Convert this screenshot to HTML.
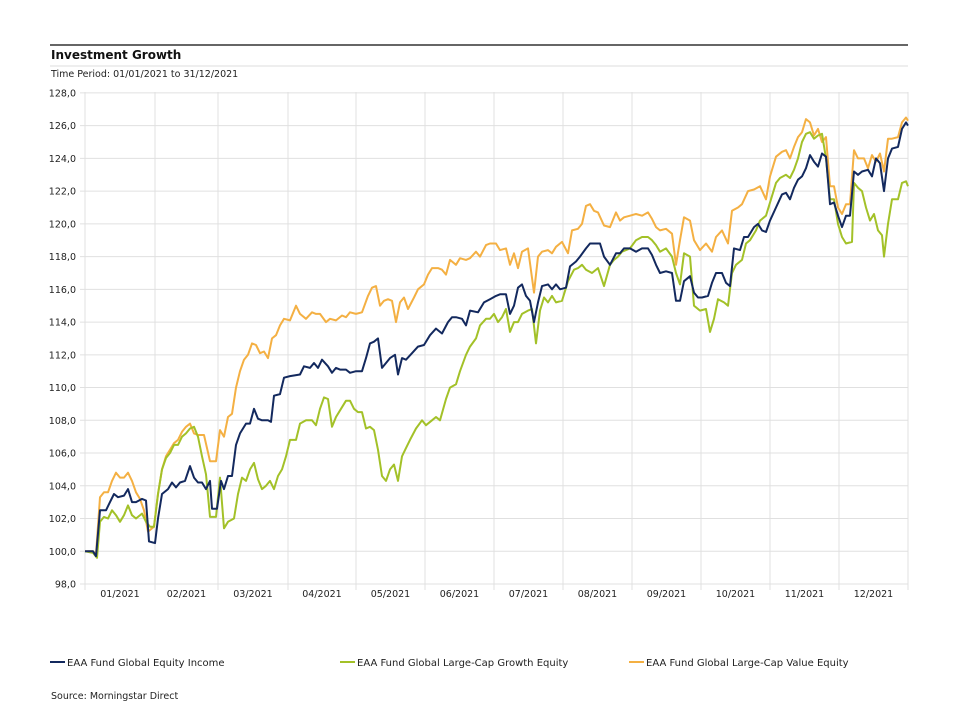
<!DOCTYPE html>
<html><head><meta charset="utf-8"><style>
body{margin:0;background:#fff;font-family:"DejaVu Sans","Liberation Sans",sans-serif;}
</style></head><body>
<svg id="s" width="960" height="720" xmlns="http://www.w3.org/2000/svg" style="display:block">
<line x1="50" y1="45" x2="908" y2="45" stroke="#333" stroke-width="1.5"/>
<text x="51" y="59" font-size="12" font-weight="bold" fill="#111">Investment Growth</text>
<line x1="50" y1="66" x2="908" y2="66" stroke="#ddd" stroke-width="1"/>
<text x="51" y="77" font-size="9.5" fill="#222">Time Period: 01/01/2021 to 31/12/2021</text>
<g id="grid"></g>
<g id="lines"></g>
<line x1="50" y1="662" x2="65" y2="662" stroke="#13295e" stroke-width="2"/>
<text x="67" y="666" font-size="10" fill="#222">EAA Fund Global Equity Income</text>
<line x1="340" y1="662" x2="355" y2="662" stroke="#a3c128" stroke-width="2"/>
<text x="357" y="666" font-size="10" fill="#222">EAA Fund Global Large-Cap Growth Equity</text>
<line x1="629" y1="662" x2="644" y2="662" stroke="#f4b043" stroke-width="2"/>
<text x="646" y="666" font-size="10" fill="#222">EAA Fund Global Large-Cap Value Equity</text>
<text x="51" y="699" font-size="9.5" fill="#222">Source: Morningstar Direct</text>
</svg>
<script>
var NS="http://www.w3.org/2000/svg";
function Y(v){return 584-(v-98)*16.37;}
var g=document.getElementById('grid'),h='';
for(var v=98;v<=128;v+=2){var y=Y(v);h+='<line x1="80" y1="'+y+'" x2="908" y2="'+y+'" stroke="#e0e0e0"/>';
h+='<text x="76" y="'+(y+3.5)+'" font-size="9.5" text-anchor="end" fill="#222">'+v+',0</text>';}
var xs=[85,155,218,288,356,425,494,563,632,701,770,839,908];
for(var i=0;i<xs.length;i++){h+='<line x1="'+xs[i]+'" y1="92" x2="'+xs[i]+'" y2="590" stroke="#e0e0e0"/>';}
var m=['01','02','03','04','05','06','07','08','09','10','11','12'];
for(var i=0;i<12;i++){var cx=(xs[i]+xs[i+1])/2;h+='<text x="'+cx+'" y="597" font-size="9.5" text-anchor="middle" fill="#222">'+m[i]+'/2021</text>';}
g.innerHTML=h;
var navy=[85,100,93,100,96,99.7,100,102.5,106,102.5,110,103,114,103.5,118,103.3,124,103.4,128,103.8,132,103,136,103,142,103.2,146,103.1,149,100.6,155,100.5,158,102,162,103.5,168,103.8,172,104.2,176,103.9,180,104.2,185,104.3,190,105.2,194,104.5,198,104.2,202,104.2,206,103.8,210,104.3,212,102.6,217,102.6,221,104.3,224,103.8,228,104.6,232,104.6,236,106.5,240,107.2,246,107.8,250,107.8,254,108.7,258,108.1,262,108,268,108,271,107.9,274,109.5,280,109.6,284,110.6,290,110.7,300,110.8,304,111.3,310,111.2,314,111.5,318,111.2,322,111.7,328,111.3,332,110.9,336,111.2,340,111.1,346,111.1,350,110.9,356,111,362,111,366,111.8,370,112.7,374,112.8,378,113,382,111.2,386,111.5,390,111.8,395,112,398,110.8,402,111.8,406,111.7,412,112.1,418,112.5,424,112.6,430,113.2,436,113.6,442,113.3,448,114,452,114.3,456,114.3,462,114.2,466,113.8,470,114.7,478,114.6,484,115.2,490,115.4,496,115.6,500,115.7,506,115.7,510,114.5,514,115,518,116.1,522,116.3,526,115.6,530,115.3,534,114,538,115.2,542,116.2,548,116.3,552,116,556,116.3,560,116,566,116.1,570,117.4,576,117.7,580,118,586,118.5,590,118.8,596,118.8,600,118.8,604,118,610,117.5,616,118.2,620,118.2,624,118.5,630,118.5,636,118.3,642,118.5,648,118.5,652,118.1,656,117.5,660,117,666,117.1,672,117,676,115.3,680,115.3,684,116.5,690,116.8,694,115.8,698,115.5,702,115.5,708,115.6,712,116.4,716,117,722,117,726,116.4,730,116.2,734,118.5,740,118.4,744,119.2,748,119.2,754,119.8,758,120,762,119.6,766,119.5,770,120.2,776,121,782,121.8,786,121.9,790,121.5,794,122.2,798,122.7,802,122.9,806,123.4,810,124.2,814,123.8,818,123.5,822,124.3,826,124.1,830,121.2,834,121.3,838,120.5,842,119.8,846,120.5,850,120.5,854,123.2,858,123,862,123.2,868,123.3,872,122.9,876,124,880,123.7,884,122,888,124,892,124.6,898,124.7,902,125.8,906,126.2,908,126];
var green=[85,100,93,99.9,97,99.6,100,101.8,104,102.1,108,102,112,102.5,116,102.2,120,101.8,124,102.2,128,102.8,132,102.2,136,102,142,102.3,146,101.8,150,101.5,154,101.5,158,103.5,162,105,166,105.7,170,106,174,106.5,178,106.5,182,107,186,107.2,190,107.5,194,107.6,198,107,202,105.8,206,104.7,210,102.1,216,102.1,220,104.5,224,101.4,228,101.8,234,102,238,103.5,242,104.5,246,104.3,250,105,254,105.4,258,104.4,262,103.8,266,104,270,104.3,274,103.8,278,104.6,282,105,286,105.8,290,106.8,296,106.8,300,107.8,306,108,312,108,316,107.7,320,108.7,324,109.4,328,109.3,332,107.6,336,108.2,342,108.8,346,109.2,350,109.2,354,108.7,358,108.5,362,108.5,366,107.5,370,107.6,374,107.4,378,106.2,382,104.6,386,104.3,390,105,394,105.3,398,104.3,402,105.8,406,106.3,410,106.8,416,107.5,422,108,426,107.7,432,108,436,108.2,440,108,446,109.3,450,110,456,110.2,460,111,466,112,470,112.5,476,113,480,113.8,486,114.2,490,114.2,494,114.5,498,114,502,114.3,506,114.8,510,113.4,514,114,518,114,522,114.5,528,114.7,532,114.8,536,112.7,540,114.7,544,115.5,548,115.2,552,115.6,556,115.2,562,115.3,568,116.5,574,117.2,578,117.3,582,117.5,586,117.2,592,117,598,117.3,604,116.2,610,117.5,614,117.8,618,118,622,118.3,630,118.5,636,119,642,119.2,648,119.2,652,119,656,118.7,660,118.3,666,118.5,672,118,676,117,680,116.3,684,118.2,690,118,694,115,700,114.7,706,114.8,710,113.4,714,114.2,718,115.4,724,115.2,728,115,732,117,736,117.5,742,117.8,746,118.8,750,119,756,119.6,760,120.2,766,120.5,770,121.3,776,122.5,780,122.8,786,123,790,122.8,794,123.3,798,124,802,125,806,125.5,810,125.6,814,125.2,818,125.4,822,125.5,826,124,830,121.5,834,121.5,838,120,842,119.2,846,118.8,852,118.9,854,122.5,858,122.2,862,122,866,121,870,120.2,874,120.6,878,119.6,882,119.3,884,118,888,120,892,121.5,898,121.5,902,122.5,906,122.6,908,122.3];
var orange=[85,100,93,100,96,99.8,100,103.3,104,103.6,108,103.6,112,104.3,116,104.8,120,104.5,124,104.5,128,104.8,132,104.3,136,103.6,140,103.2,144,102.5,148,101.2,154,101.5,158,103.5,162,105,166,105.8,170,106.2,174,106.6,178,106.8,182,107.3,186,107.6,190,107.8,194,107.2,198,107.1,204,107.1,210,105.5,216,105.5,220,107.4,224,107,228,108.2,232,108.4,236,110,240,111,244,111.7,248,112,252,112.7,256,112.6,260,112.1,264,112.2,268,111.8,272,113,276,113.2,280,113.8,284,114.2,290,114.1,296,115,300,114.5,306,114.2,312,114.6,316,114.5,320,114.5,326,114,330,114.2,336,114.1,342,114.4,346,114.3,350,114.6,356,114.5,362,114.6,368,115.6,372,116.1,376,116.2,380,115,384,115.3,388,115.4,392,115.3,396,114,400,115.2,404,115.5,408,114.8,414,115.5,418,116,424,116.3,428,116.9,432,117.3,438,117.3,442,117.2,446,116.9,450,117.8,456,117.5,460,117.9,466,117.8,470,117.9,476,118.3,480,118,486,118.7,490,118.8,496,118.8,500,118.4,506,118.5,510,117.5,514,118.2,518,117.3,522,118.3,528,118.5,534,115.8,538,118,542,118.3,548,118.4,552,118.2,556,118.6,562,118.9,568,118.2,572,119.6,578,119.7,582,120,586,121.1,590,121.2,594,120.8,598,120.7,604,119.9,610,119.8,616,120.7,620,120.2,624,120.4,630,120.5,636,120.6,642,120.5,648,120.7,652,120.3,656,119.8,660,119.6,666,119.7,672,119.4,676,117.5,680,119,684,120.4,690,120.2,694,119,700,118.4,706,118.8,712,118.3,716,119.2,722,119.6,728,118.8,732,120.8,738,121,742,121.2,748,122,754,122.1,760,122.3,766,121.5,770,122.9,776,124.1,782,124.4,786,124.5,790,124,794,124.7,798,125.3,802,125.6,806,126.4,810,126.2,814,125.4,818,125.8,822,125,826,125.3,830,122.3,834,122.3,838,121,842,120.6,846,121.2,850,121.2,854,124.5,858,124,864,124,868,123.4,872,124.2,876,123.8,880,124.3,884,123.2,888,125.2,892,125.2,898,125.3,902,126.2,906,126.5,908,126.3];
function pl(a,c){var p=[];for(var i=0;i<a.length;i+=2)p.push(a[i]+','+Y(a[i+1]).toFixed(1));
return '<polyline fill="none" stroke="'+c+'" stroke-width="2" stroke-linejoin="round" points="'+p.join(' ')+'"/>';}
document.getElementById('lines').innerHTML=pl(orange,'#f4b043')+pl(green,'#a3c128')+pl(navy,'#13295e');
</script>
</body></html>
